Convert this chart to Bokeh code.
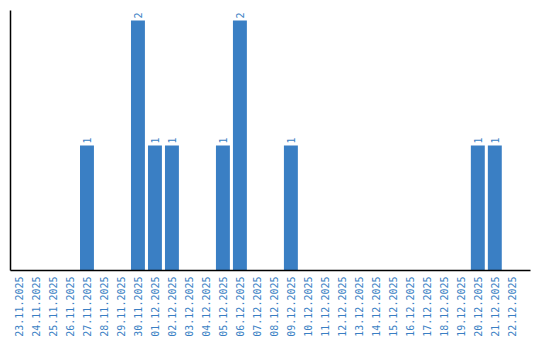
import math
from bokeh.plotting import figure
from bokeh.models import ColumnDataSource, Range1d, FixedTicker
from bokeh.core.properties import value
from bokeh.embed import file_html
from bokeh.resources import INLINE

dates = ["23.11.2025", "24.11.2025", "25.11.2025", "26.11.2025", "27.11.2025",
         "28.11.2025", "29.11.2025", "30.11.2025", "01.12.2025", "02.12.2025",
         "03.12.2025", "04.12.2025", "05.12.2025", "06.12.2025", "07.12.2025",
         "08.12.2025", "09.12.2025", "10.12.2025", "11.12.2025", "12.12.2025",
         "13.12.2025", "14.12.2025", "15.12.2025", "16.12.2025", "17.12.2025",
         "18.12.2025", "19.12.2025", "20.12.2025", "21.12.2025", "22.12.2025"]
counts = [0, 0, 0, 0, 1, 0, 0, 2, 1, 1, 0, 0, 1, 2, 0, 0, 1, 0, 0, 0,
          0, 0, 0, 0, 0, 0, 0, 1, 1, 0]

BLUE = "#3a7fc4"
FONT = "DejaVu Sans Mono"

pos = [i + 0.5 for i in range(len(dates))]
bars = ColumnDataSource(data=dict(x=pos, top=counts))
nz = [i for i, c in enumerate(counts) if c > 0]
labels = ColumnDataSource(data=dict(x=[pos[i] for i in nz],
                                    y=[counts[i] for i in nz],
                                    t=[str(counts[i]) for i in nz]))

p = figure(width=540, height=340, x_range=Range1d(0, len(dates) + 0.6),
           y_range=Range1d(0, 2.08),
           output_backend="svg", toolbar_location=None,
           min_border_left=10, min_border_right=10, min_border_top=10,
           min_border_bottom=70)
p.outline_line_color = None
p.xgrid.grid_line_color = None
p.ygrid.grid_line_color = None

p.vbar(x="x", top="top", width=0.82, source=bars, color=BLUE, line_color=None)
p.text(x="x", y="y", text="t", source=labels, angle=math.pi / 2,
       text_align="left", text_baseline="middle", y_offset=-2,
       text_font=value(FONT), text_font_size="10px", text_color=BLUE)

xa = p.xaxis[0]
xa.ticker = FixedTicker(ticks=pos)
xa.major_label_overrides = {p_: d for p_, d in zip(pos, dates)}
xa.major_label_orientation = math.pi / 2
xa.major_label_text_font = FONT
xa.major_label_text_font_size = "10px"
xa.major_label_text_color = BLUE
xa.major_tick_line_color = None
xa.minor_tick_line_color = None
xa.major_tick_out = 0
xa.major_tick_in = 0
xa.axis_line_color = "black"
xa.axis_line_width = 1.5
xa.major_label_standoff = 6

ya = p.yaxis[0]
ya.ticker = FixedTicker(ticks=[])
ya.major_tick_line_color = None
ya.minor_tick_line_color = None
ya.major_tick_out = 0
ya.major_tick_in = 0
ya.axis_line_color = "black"
ya.axis_line_width = 1.5
ya.major_label_standoff = 0

open("out.html", "w").write(file_html(p, INLINE))
